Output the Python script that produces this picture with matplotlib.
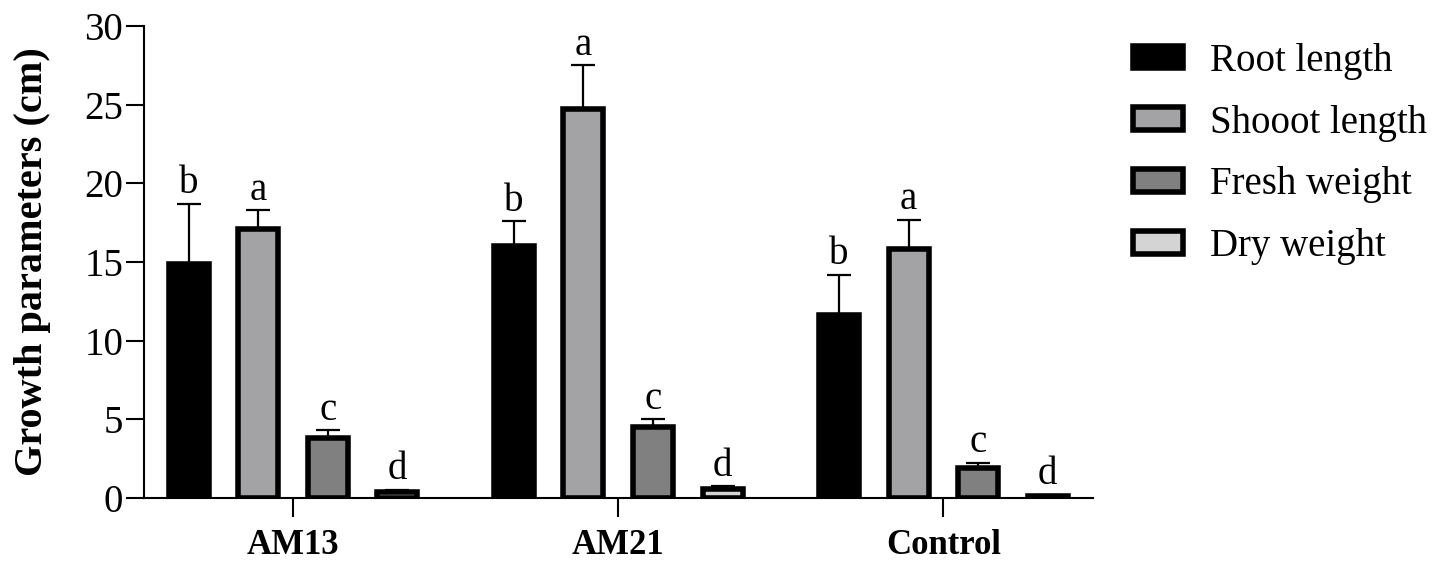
import numpy as np
import matplotlib.pyplot as plt

plt.rcParams['font.family'] = ['Liberation Serif', 'DejaVu Serif']

# data
groups = ['AM13', 'AM21', 'Control']
series = ['Root length', 'Shooot length', 'Fresh weight', 'Dry weight']
root = [14.9, 16.0, 11.6]
shoot = [17.1, 24.7, 15.8]
fresh = [3.8, 4.5, 1.9]
dry = [0.4, 0.6, 0.15]
root_err = [3.8, 1.6, 2.6]
shoot_err = [1.2, 2.8, 1.9]
fresh_err = [0.5, 0.5, 0.35]
dry_err = [0.12, 0.15, 0.06]
letters = ['b', 'a', 'c', 'd']

values = [root, shoot, fresh, dry]
errors = [root_err, shoot_err, fresh_err, dry_err]
fills = ['black', '#a3a3a6', '#808080', '#d4d4d4']

fig = plt.figure(figsize=(14.41, 5.69), dpi=100)
ax = fig.add_axes([0.0999, 0.1248, 0.6586, 0.8295])

x = np.arange(len(groups))
step = 0.214
width = 0.123
for i in range(4):
    pos = x + (i - 1.5) * step
    ax.bar(pos, values[i], width, color=fills[i], edgecolor='black',
           linewidth=4, label=series[i], zorder=3)
    ax.errorbar(pos, values[i], yerr=[np.zeros(3), errors[i]], fmt='none',
                ecolor='black', elinewidth=1.6, capsize=8.5, capthick=1.6, zorder=2)
    for p, v, e in zip(pos, values[i], errors[i]):
        ax.annotate(letters[i], (p, v + e), xytext=(0, 1), textcoords='offset points',
                    ha='center', va='bottom', fontsize=28)

ax.set_xlim(-0.458, 2.46)
ax.set_ylim(0, 30)
ax.set_yticks(range(0, 31, 5))
ax.set_xticks(x)
ax.set_xticklabels(groups, fontsize=25, fontweight='bold')
ax.tick_params(axis='y', labelsize=28, length=13, width=1.5, pad=2)
ax.tick_params(axis='x', length=14, width=1.5, pad=8)
for s in ['top', 'right']:
    ax.spines[s].set_visible(False)
for s in ['left', 'bottom']:
    ax.spines[s].set_linewidth(1.5)
ax.set_ylabel('Growth parameters (cm)', fontsize=29, fontweight='bold', labelpad=24)

fig.legend(loc='upper left', bbox_to_anchor=(0.786, 0.925), frameon=False,
           fontsize=28, handlelength=1.29, handleheight=0.52, labelspacing=0.64,
           handletextpad=0.7, borderpad=0, borderaxespad=0)

fig.savefig('out.png', dpi=100)
